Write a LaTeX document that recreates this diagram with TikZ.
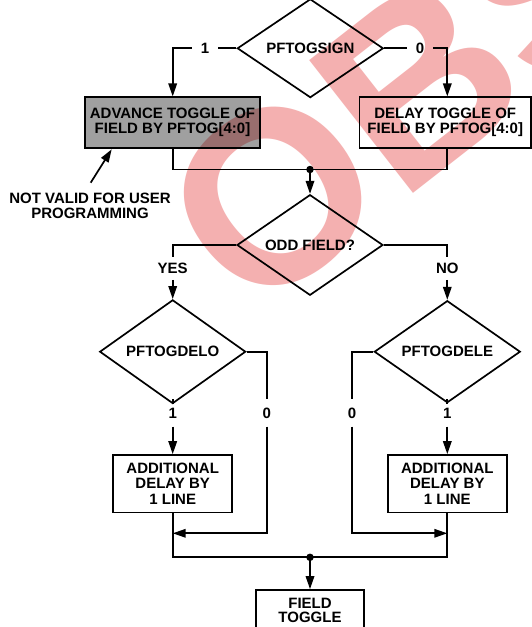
\documentclass[tikz,border=0pt]{standalone}
\usepackage{fontspec}
\setmainfont{Liberation Sans}
\usetikzlibrary{arrows.meta,shapes.geometric}
\definecolor{wm}{RGB}{244,176,176}
\definecolor{boxgray}{RGB}{160,160,160}
\tikzset{
  ln/.style={line width=1.7pt},
  arr/.style={ln,-{Triangle[length=13pt,width=8.5pt]}},
  txt/.style={font=\fontsize{15}{15}\selectfont\bfseries},
  dec/.style={diamond, draw, ln, minimum width=146pt, minimum height=80pt, inner sep=0pt, txt},
  proc/.style={draw, rectangle, ln, inner sep=0pt, align=center},
  lab/.style={inner xsep=9pt, inner ysep=8pt, txt, text height=10.7pt, text depth=0pt},
  jdot/.style={circle, fill=black, inner sep=0pt, minimum size=7.5pt}
}
\begin{document}
\begin{tikzpicture}[x=1pt,y=-1pt]
\useasboundingbox[fill=white] (0,0) rectangle (532,627);
% columns
\coordinate (colL) at (172.7,0);
\coordinate (colR) at (447.3,0);
% top decision
\node[dec] (d1) at (310.3,48.3) {PFTOGSIGN};
\node[lab] (t1) at (205,48.3) {1};
\node[lab] (t0) at (420,48.3) {0};
\node[proc, fill=boxgray, minimum width=175pt, minimum height=50.4pt, font=\fontsize{15}{14.5}\selectfont\bfseries] (adv) at (172.5,122.5) {ADVANCE TOGGLE OF\\FIELD BY PFTOG[4:0]};
\node[proc, minimum width=171.5pt, minimum height=50.4pt, font=\fontsize{15}{14.5}\selectfont\bfseries] (del) at (445.25,122.5) {DELAY TOGGLE OF\\FIELD BY PFTOG[4:0]};
\draw[ln] (d1.west) -- (t1);
\draw[arr] (t1) -| (adv.north -| colL);
\draw[ln] (d1.east) -- (t0);
\draw[arr] (t0) -| (del.north -| colR);
% note
\node[align=center, inner sep=0pt, font=\fontsize{15}{15.5}\selectfont\bfseries] (note) at (90,206) {NOT VALID FOR USER\\PROGRAMMING};
\coordinate (ptail) at (90.7,182.7);
\coordinate (ptip) at (111.7,149.3);
\draw[arr] (ptail) -- (ptip);
% junction 1
\coordinate (j1) at (310,169.5);
\draw[ln] (adv.south -| colL) |- (j1);
\draw[ln] (del.south -| colR) |- (j1);
\node[jdot] (j1d) at (j1) {};
\node[dec] (d2) at (310,245) {ODD FIELD?};
\draw[arr] (j1) -- (d2.north);
\node[lab, inner ysep=6pt] (yes) at (172.7,268.3) {YES};
\node[lab, inner ysep=6pt] (no) at (447.3,268.3) {NO};
\node[dec] (d3) at (172.7,351.7) {PFTOGDELO};
\node[dec] (d4) at (447.3,351.7) {PFTOGDELE};
\draw[ln] (d2.west) -| (yes);
\draw[arr] (yes) -- (d3.north);
\draw[ln] (d2.east) -| (no);
\draw[arr] (no) -- (d4.north);
% second level labels
\node[lab] (o3) at (172.7,413) {1};
\node[lab] (z3) at (266.7,413) {0};
\node[lab] (z4) at (352,413) {0};
\node[lab] (o4) at (447.3,413) {1};
\node[proc, minimum width=119pt, minimum height=57.5pt, font=\fontsize{15}{15.5}\selectfont\bfseries] (b3) at (172.7,483.75) {ADDITIONAL\\DELAY BY\\1 LINE};
\node[proc, minimum width=119pt, minimum height=57.5pt, font=\fontsize{15}{15.5}\selectfont\bfseries] (b4) at (447.3,483.75) {ADDITIONAL\\DELAY BY\\1 LINE};
\draw[ln] (d3.south) -- (o3);
\draw[arr] (o3) -- (b3.north);
\draw[ln] (d4.south) -- (o4);
\draw[arr] (o4) -- (b4.north);
\coordinate (m3) at (172.7,533.3);
\coordinate (m4) at (447.3,533.3);
\draw[ln] (d3.east) -| (z3);
\draw[arr] (z3) |- (m3);
\draw[ln] (d4.west) -| (z4);
\draw[arr] (z4) |- (m4);
% junction 2
\coordinate (j2) at (310,557.3);
\draw[ln] (b3.south) |- (j2);
\draw[ln] (b4.south) |- (j2);
\node[jdot] (j2d) at (j2) {};
\node[proc, minimum width=108pt, minimum height=41pt, font=\fontsize{15}{14}\selectfont\bfseries] (ft) at (310,610.5) {FIELD\\TOGGLE};
\draw[arr] (j2) -- (ft.north);
% watermark
\begin{scope}[blend mode=multiply]
\node[rotate=38, anchor=base west, inner sep=0pt, text=wm, font=\fontsize{245}{245}\selectfont\bfseries] (wmark) at (250,321.4) {OBSOLETE};
\end{scope}
\end{tikzpicture}
\end{document}
